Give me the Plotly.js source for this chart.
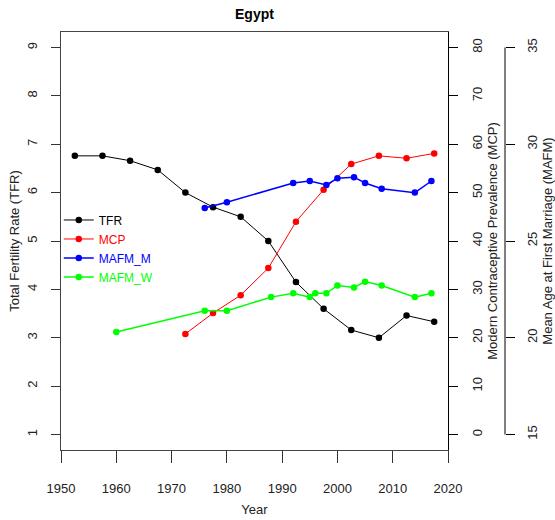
<!DOCTYPE html>
<html>
<head>
<meta charset="utf-8">
<script src="https://cdn.plot.ly/plotly-3.0.1.min.js"></script>
<style>html,body{margin:0;padding:0;background:#fff;}#chart{width:555px;height:520px;}</style>
</head>
<body>
<div id="chart"></div>
<script>
// TFR (5-year period midpoints)
var tfrYears = [1952.5, 1957.5, 1962.5, 1967.5, 1972.5, 1977.5, 1982.5, 1987.5, 1992.5, 1997.5, 2002.5, 2007.5, 2012.5, 2017.5];
var tfrValues = [6.76, 6.76, 6.66, 6.47, 6.0, 5.70, 5.50, 5.0, 4.15, 3.60, 3.16, 3.00, 3.46, 3.33];
// Modern contraceptive prevalence
var mcpYears = [1972.5, 1977.5, 1982.5, 1987.5, 1992.5, 1997.5, 2002.5, 2007.5, 2012.5, 2017.5];
var mcpValues = [20.8, 25.1, 28.8, 34.4, 44.0, 50.6, 55.9, 57.6, 57.1, 58.1];
// Mean age at first marriage, men
var mafmMYears = [1976, 1980, 1992, 1995, 1998, 2000, 2003, 2005, 2008, 2014, 2017];
var mafmMValues = [26.7, 27.0, 28.0, 28.1, 27.9, 28.24, 28.3, 28.0, 27.7, 27.5, 28.1];
// Mean age at first marriage, women
var mafmWYears = [1960, 1976, 1980, 1988, 1992, 1995, 1996, 1998, 2000, 2003, 2005, 2008, 2014, 2017];
var mafmWValues = [20.3, 21.4, 21.4, 22.1, 22.3, 22.1, 22.3, 22.3, 22.7, 22.6, 22.9, 22.7, 22.1, 22.3];
// Axis ticks
var xTicks = [1950, 1960, 1970, 1980, 1990, 2000, 2010, 2020];
var tfrTicks = [1, 2, 3, 4, 5, 6, 7, 8, 9];
var mcpTicks = [0, 10, 20, 30, 40, 50, 60, 70, 80];
var mafmTicks = [15, 20, 25, 30, 35];

var FONT = 'Liberation Sans, Arial, sans-serif';

function tr(x, y, name, color, yaxis, lw) {
  return {
    x: x, y: y, yaxis: yaxis, type: 'scatter', mode: 'lines+markers',
    name: '<span style="color:' + color + '">' + name + '</span>',
    line: {color: color, width: lw},
    marker: {color: color, size: 6.5}
  };
}

var data = [
  tr(tfrYears, tfrValues, 'TFR', '#000000', 'y', 1),
  tr(mcpYears, mcpValues, 'MCP', '#FF0000', 'y2', 1),
  tr(mafmMYears, mafmMValues, 'MAFM_M', '#0000FF', 'y3', 1.5),
  tr(mafmWYears, mafmWValues, 'MAFM_W', '#00FF00', 'y3', 1.5)
];

var layout = {
  width: 555, height: 520,
  margin: {l: 61, r: 50, t: 32, b: 70},
  paper_bgcolor: '#fff', plot_bgcolor: '#fff',
  font: {family: FONT, size: 12, color: '#222'},
  title: {text: '<b>Egypt</b>', x: 0.4585, xanchor: 'center', y: 0.972, yanchor: 'middle',
          font: {family: FONT, size: 14, color: '#000'}},
  showlegend: true,
  legend: {x: -0.005, xanchor: 'left', y: 0.585, yanchor: 'top', bgcolor: 'rgba(0,0,0,0)',
           font: {family: FONT, size: 12}, tracegroupgap: 0, itemwidth: 30},
  xaxis: {
    domain: [0, 387 / 444], range: [1950, 2020], tickvals: xTicks,
    ticks: 'outside', ticklen: 12, tickcolor: '#333', showline: true, linecolor: '#444',
    mirror: true, showgrid: false, zeroline: false, ticklabelstandoff: 14,
    tickfont: {family: FONT, size: 13, color: '#222'},
    title: {text: 'Year', standoff: 10, font: {family: FONT, size: 13, color: '#222'}}
  },
  yaxis: {
    range: [0.68, 9.32], tickvals: tfrTicks, tickangle: -90,
    ticks: 'outside', ticklen: 9, tickcolor: '#333', showline: true, linecolor: '#444',
    mirror: true, showgrid: false, zeroline: false, ticklabelstandoff: 9,
    tickfont: {family: FONT, size: 13, color: '#222'},
    title: {text: 'Total Fertility Rate (TFR)', standoff: 2, font: {family: FONT, size: 13, color: '#222'}}
  },
  yaxis2: {
    overlaying: 'y', side: 'right', anchor: 'x',
    range: [-3.2, 83.2], tickvals: mcpTicks, tickangle: -90,
    ticks: 'outside', ticklen: 9, tickcolor: '#000', showline: true, linecolor: '#000',
    showgrid: false, zeroline: false, ticklabelstandoff: 8,
    tickfont: {family: FONT, size: 13, color: '#222'},
    title: {text: 'Modern Contraceptive Prevalence (MCP)', standoff: 0, font: {family: FONT, size: 13, color: '#222'}}
  },
  yaxis3: {
    overlaying: 'y', side: 'right', anchor: 'free', position: 1,
    range: [14.2, 35.8], tickvals: mafmTicks, tickangle: -90,
    ticks: 'outside', ticklen: 9, tickcolor: '#000', showline: false,
    showgrid: false, zeroline: false, ticklabelstandoff: 6,
    tickfont: {family: FONT, size: 13, color: '#222'},
    title: {text: 'Mean Age at First Marriage (MAFM)', standoff: 3, font: {family: FONT, size: 13, color: '#222'}}
  },
  shapes: [{type: 'line', xref: 'paper', yref: 'y3', x0: 1, x1: 1, y0: mafmTicks[0], y1: mafmTicks[mafmTicks.length - 1],
            line: {color: '#000', width: 1}}]
};

Plotly.newPlot('chart', data, layout, {displayModeBar: false, staticPlot: true});
</script>
</body>
</html>
